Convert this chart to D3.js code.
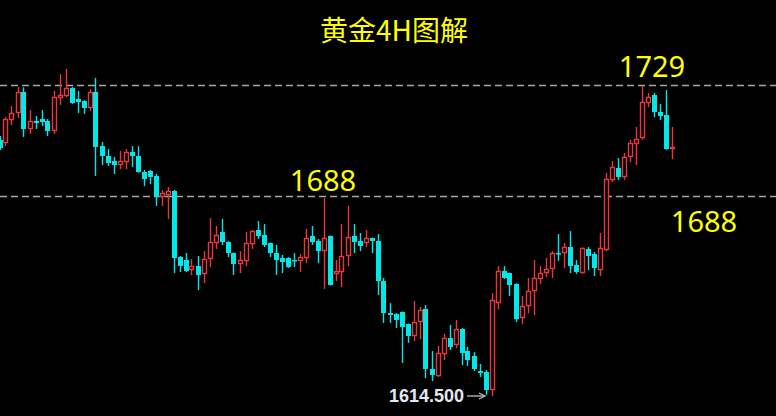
<!DOCTYPE html>
<html><head><meta charset="utf-8">
<script src="https://cdn.jsdelivr.net/npm/d3@7"></script>
<style>html,body{margin:0;padding:0;background:#000;overflow:hidden}</style>
</head><body>
<svg id="chart" width="776" height="416"></svg>
<script>
const title = "黄金4H图解";
const open = [1709.1,1707.9,1716.4,1719.0,1726.8,1713.1,1716.1,1716.8,1716.1,1712.4,
1724.6,1725.3,1728.3,1724.2,1723.5,1720.9,1726.8,1706.8,1703.1,1701.3,
1699.8,1700.9,1704.6,1703.1,1697.2,1697.6,1695.8,1688.0,1688.7,1690.2,
1665.8,1664.7,1661.0,1662.5,1659.6,1665.1,1671.0,1675.1,1671.4,1667.3,
1663.2,1664.4,1670.6,1675.8,1674.0,1671.0,1667.3,1665.5,1665.5,1664.7,
1664.4,1665.5,1673.6,1671.7,1668.0,1673.6,1659.6,1660.3,1666.2,1673.6,
1671.7,1671.0,1672.8,1671.7,1657.0,1645.1,1644.8,1645.5,1641.1,1636.7,
1641.8,1646.6,1624.5,1621.9,1630.0,1635.9,1633.3,1639.2,1631.1,1629.3,
1623.7,1623.4,1616.7,1648.8,1660.7,1659.9,1655.9,1643.3,1647.7,1653.3,
1657.7,1659.9,1661.4,1667.3,1667.3,1669.5,1662.9,1659.9,1668.8,1666.9,
1661.0,1668.4,1694.3,1698.7,1695.4,1702.8,1707.6,1709.8,1722.7,1725.7,
1719.4,1718.3,1706.1];
const high = [1710.5,1717.5,1721.6,1728.6,1728.5,1720.1,1717.9,1720.1,1716.8,1727.2,
1733.4,1735.3,1728.6,1727.2,1723.7,1727.9,1732.0,1708.3,1705.7,1702.8,
1705.0,1705.7,1706.8,1706.8,1698.0,1698.0,1696.5,1690.6,1691.7,1690.6,
1666.2,1667.3,1665.1,1666.2,1668.0,1680.2,1677.3,1679.9,1671.7,1667.5,
1668.0,1675.1,1675.8,1679.1,1678.0,1671.2,1670.3,1666.6,1665.8,1667.3,
1666.9,1676.2,1677.3,1672.5,1687.6,1673.8,1664.7,1678.0,1684.7,1678.0,
1674.7,1675.8,1673.0,1674.3,1658.1,1648.8,1645.1,1645.7,1641.3,1649.6,
1647.4,1648.1,1631.1,1633.0,1637.4,1640.7,1642.6,1639.6,1632.6,1630.7,
1626.3,1624.1,1652.5,1662.5,1662.5,1660.1,1656.1,1651.4,1658.1,1664.7,
1662.5,1665.5,1668.0,1674.3,1671.0,1675.4,1664.7,1669.4,1669.5,1667.7,
1674.7,1696.9,1701.3,1702.4,1704.3,1709.1,1713.9,1729.0,1726.4,1726.4,
1722.4,1727.5,1713.9];
const low = [1705.4,1706.8,1714.6,1717.2,1710.2,1711.3,1713.1,1714.2,1710.5,1711.3,
1722.0,1724.9,1722.4,1719.0,1718.7,1719.8,1695.8,1699.8,1699.5,1696.5,
1698.3,1698.3,1699.1,1697.0,1692.1,1692.8,1684.7,1684.7,1679.9,1659.9,
1660.3,1660.3,1659.2,1653.6,1656.2,1662.1,1668.8,1670.3,1665.8,1659.2,
1659.9,1662.5,1668.8,1672.5,1669.5,1665.8,1659.2,1659.9,1661.8,1662.1,
1660.3,1663.6,1670.3,1663.6,1654.0,1655.3,1657.0,1654.8,1662.5,1667.3,
1668.0,1669.5,1667.3,1651.8,1641.5,1641.5,1639.6,1626.7,1634.1,1634.8,
1635.5,1621.1,1620.0,1621.5,1627.8,1631.5,1632.2,1625.9,1625.6,1623.7,
1621.5,1614.9,1614.5,1646.6,1657.7,1651.4,1641.8,1641.1,1645.1,1644.4,
1655.9,1658.4,1658.1,1664.4,1661.8,1659.9,1659.6,1659.7,1661.0,1658.8,
1658.8,1668.0,1693.5,1694.3,1694.3,1700.9,1699.8,1709.1,1721.2,1717.5,
1716.4,1705.4,1702.0];
const close = [1706.1,1716.8,1719.0,1726.8,1713.1,1716.1,1715.3,1715.7,1712.4,1724.9,
1725.7,1728.3,1722.7,1723.1,1720.9,1726.8,1706.5,1703.1,1700.6,1699.8,
1701.3,1704.6,1703.1,1697.2,1694.6,1695.4,1688.0,1689.5,1690.2,1665.5,
1662.5,1660.7,1662.5,1659.2,1665.1,1671.4,1674.0,1671.4,1667.3,1663.2,
1664.7,1671.0,1675.4,1673.6,1670.3,1667.3,1664.7,1664.0,1662.1,1664.4,
1665.8,1672.8,1671.4,1668.0,1672.8,1655.5,1660.7,1666.2,1673.2,1671.4,
1669.9,1672.8,1671.7,1657.0,1645.1,1644.4,1642.6,1640.0,1636.7,1641.8,
1646.3,1624.5,1622.2,1630.4,1635.9,1632.6,1639.2,1630.4,1627.8,1624.5,
1623.0,1616.7,1650.0,1660.7,1658.1,1655.5,1642.9,1647.7,1653.3,1658.1,
1659.9,1661.4,1667.3,1666.9,1669.5,1662.5,1660.3,1669.2,1666.2,1661.8,
1669.2,1694.6,1699.1,1695.4,1702.8,1707.9,1709.4,1723.1,1724.9,1719.4,
1717.9,1705.7,1706.5];
const levels = [1729, 1688];
const levelLabels = ["1729", "1688", "1688"];
const lowLabel = "1614.500";

const W = 776, H = 416;
const svg = d3.select("#chart");
svg.append("rect").attr("width", W).attr("height", H).attr("fill", "#000");

const n = open.length;
const x = d3.scaleLinear().domain([0, n - 1]).range([-0.5, 671.5]);
const y = d3.scaleLinear().domain([1614.5, 1729]).range([396, 86]);

const UP = "#e8383d", DOWN = "#00e8e8";

// dashed level lines
svg.selectAll("line.level").data(levels).join("line")
  .attr("class", "level")
  .attr("x1", 0).attr("x2", W)
  .attr("y1", d => Math.round(y(d)) - 0.5).attr("y2", d => Math.round(y(d)) - 0.5)
  .attr("stroke", "#a8a8a8").attr("stroke-width", 1.6)
  .attr("stroke-dasharray", "7,4");

const data = d3.range(n).map(i => ({i, o: open[i], h: high[i], l: low[i], c: close[i]}));
const g = svg.append("g");
const cs = g.selectAll("g.c").data(data).join("g").attr("class", "c");
cs.append("line")
  .attr("x1", d => Math.round(x(d.i)) + 0.5).attr("x2", d => Math.round(x(d.i)) + 0.5)
  .attr("y1", d => y(d.h)).attr("y2", d => y(d.l))
  .attr("stroke", d => d.c >= d.o ? UP : DOWN).attr("stroke-width", 1.4);
cs.append("rect")
  .attr("x", d => d.c >= d.o ? Math.round(x(d.i)) - 1.5 : Math.round(x(d.i)) - 2)
  .attr("width", d => d.c >= d.o ? 4 : 5)
  .attr("y", d => d.c >= d.o ? Math.round(y(d.c)) + 0.5 : Math.round(y(d.o)))
  .attr("height", d => {
    const hgt = Math.abs(Math.round(y(d.o)) - Math.round(y(d.c)));
    return d.c >= d.o ? Math.max(hgt - 1, 1) : Math.max(hgt, 1.5);
  })
  .attr("fill", d => d.c >= d.o ? "#000" : DOWN)
  .attr("stroke", d => d.c >= d.o ? UP : "none")
  .attr("stroke-width", 1.4);

// title
svg.append("text").text(title)
  .attr("x", 394).attr("y", 41).attr("text-anchor", "middle")
  .attr("fill", "#ffff00").attr("font-size", 28)
  .attr("font-family", "'Noto Sans CJK SC', 'Noto Sans', sans-serif");

// level labels
const lab = (t, cx, by) => svg.append("text").text(t)
  .attr("x", cx).attr("y", by).attr("text-anchor", "middle")
  .attr("fill", "#ffff00").attr("font-size", 29)
  .attr("font-family", "'Noto Sans', 'Open Sans', sans-serif");
lab(levelLabels[0], 652, y(levels[0]) - 9);
lab(levelLabels[1], 323, y(levels[1]) - 6);
lab(levelLabels[2], 704, y(levels[1]) + 35);

// low price marker
const ly = y(1614.5);
svg.append("text").text(lowLabel)
  .attr("x", 464).attr("y", ly + 6).attr("text-anchor", "end")
  .attr("fill", "#e2e9f0").attr("font-size", 18).attr("font-weight", "bold")
  .attr("font-family", "'Liberation Sans', Arial, sans-serif");
svg.append("line").attr("x1", 467).attr("x2", 484).attr("y1", ly).attr("y2", ly)
  .attr("stroke", "#c0c0c0").attr("stroke-width", 1.3);
svg.append("path").attr("d", `M479,${ly - 3}L485,${ly}L479,${ly + 3}`)
  .attr("fill", "none").attr("stroke", "#c0c0c0").attr("stroke-width", 1.3);
</script>
</body></html>
